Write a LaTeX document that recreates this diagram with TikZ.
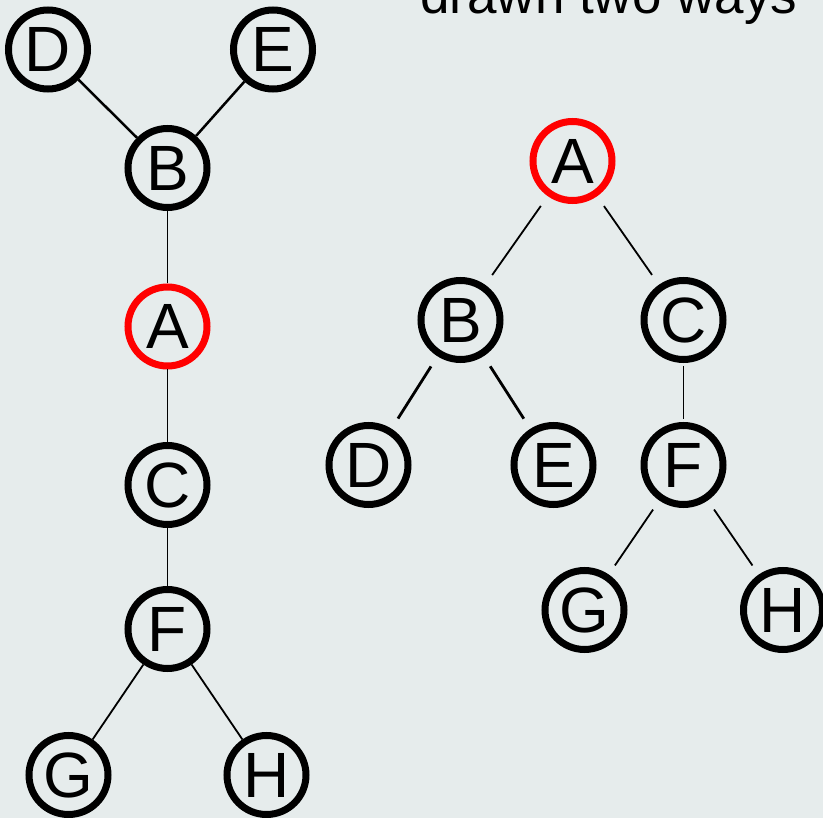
\documentclass[tikz,border=0pt]{standalone}
\usepackage{fontspec}
\setmainfont{Liberation Sans}
\usetikzlibrary{math}
\definecolor{bgrey}{RGB}{230,236,236}
\definecolor{rootred}{RGB}{255,0,0}
\tikzset{
  vtx/.style={circle, draw=black, line width=7pt, minimum size=79pt, inner sep=0pt,
    font=\fontsize{64}{64}\selectfont},
  root/.style={vtx, draw=rootred},
  edge/.style={line width=1.8pt},
  gap/.style={shorten <=#1, shorten >=#1}
}

\begin{document}
\begin{tikzpicture}[x=1pt,y=-1pt]
\tikzmath{
\lx=167.5;
}
\fill[bgrey] (0,0) rectangle (823,818);
\useasboundingbox (0,0) rectangle (823,818);

\node[anchor=base west, inner sep=0pt, font=\fontsize{53}{53}\selectfont] (title) at (420,14) {drawn two ways};

% left drawing
\node[vtx] (lD) at (48,49.5) {D};
\node[vtx] (lE) at (273,49.5) {E};
\node[vtx] (lB) at (\lx,168) {B};
\node[root] (lA) at (\lx,326.5) {A};
\node[vtx] (lC) at (\lx,485) {C};
\node[vtx] (lF) at (\lx,629) {F};
\node[vtx] (lG) at (68.5,775) {G};
\node[vtx] (lH) at (266.5,775) {H};

\draw[edge, line width=2.5pt] (lD) -- (lB);
\draw[edge, line width=2.5pt] (lE) -- (lB);
\draw[edge] (lB) -- (lA);
\draw[edge] (lA) -- (lC);
\draw[edge] (lC) -- (lF);
\draw[edge] (lF) -- (lG);
\draw[edge] (lF) -- (lH);

% right drawing, rooted at A
\node[root] (rA) at (572.5,161) {A};
\node[vtx] (rB) at (460.5,320) {B};
\node[vtx] (rC) at (683.5,320) {C};
\node[vtx] (rD) at (368.5,465) {D};
\node[vtx] (rE) at (553.5,465) {E};
\node[vtx] (rF) at (683.5,465) {F};
\node[vtx] (rG) at (584.5,610) {G};
\node[vtx] (rH) at (783,610) {H};

\draw[edge, gap=12pt] (rA) -- (rB);
\draw[edge, gap=12pt] (rA) -- (rC);
\draw[edge, gap=12pt, line width=2.8pt] (rB) -- (rD);
\draw[edge, gap=12pt, line width=2.8pt] (rB) -- (rE);
\draw[edge, gap=3pt] (rC) -- (rF);
\draw[edge, gap=11pt] (rF) -- (rG);
\draw[edge, gap=11pt] (rF) -- (rH);

\end{tikzpicture}
\end{document}
